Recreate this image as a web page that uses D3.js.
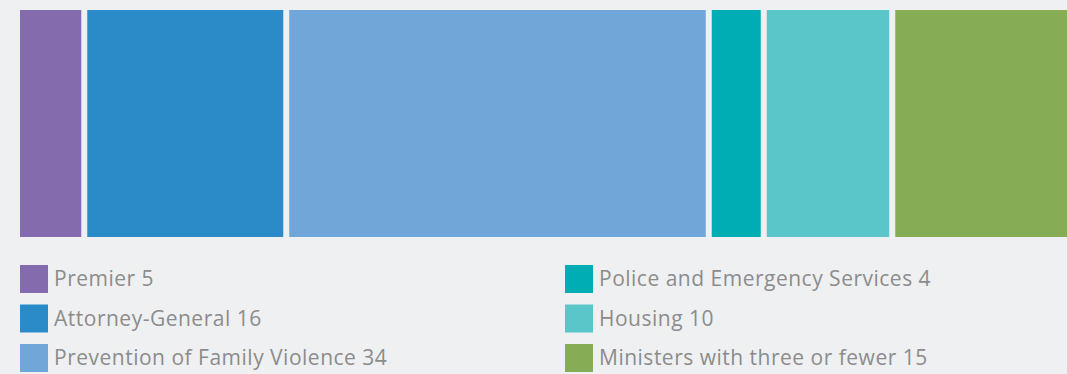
<!DOCTYPE html>
<html>
<head>
<meta charset="utf-8">
<script src="https://cdn.jsdelivr.net/npm/d3@7"></script>
<style>
  body { margin: 0; background: #eff0f2; overflow: hidden; }
  svg { display: block; }
  .legend text { font-family: "Open Sans", sans-serif; font-size: 21px; letter-spacing: 0.5px; fill: #8c8c8c; }
</style>
</head>
<body>
<svg id="chart" width="1067" height="374"></svg>
<script>
const categories = ['Premier', 'Attorney-General', 'Prevention of Family Violence',
                    'Police and Emergency Services', 'Housing', 'Ministers with three or fewer'];
const counts = [5, 16, 34, 4, 10, 15];
const colors = ['#836bae', '#2b8bc9', '#71a6d9', '#00adb5', '#5bc6c9', '#86ad55'];

const svg = d3.select('#chart');
const gap = 6;
const total = d3.sum(counts);

// bar runs past the right edge of the window, as in the original
const x = d3.scaleLinear()
    .domain([0, total])
    .range([20, 1079 - gap * (counts.length - 1)]);

let start = 0;
const segs = counts.map((v, i) => {
    const s = { i: i, v: v, x0: start };
    start += v;
    return s;
});

svg.append('g')
    .selectAll('rect')
    .data(segs)
    .join('rect')
    .attr('x', d => x(d.x0) + d.i * gap)
    .attr('y', 10)
    .attr('width', d => x(d.x0 + d.v) - x(d.x0))
    .attr('height', 227)
    .attr('fill', d => colors[d.i]);

// legend, two columns of three
const legend = svg.append('g').attr('class', 'legend')
    .selectAll('g')
    .data(categories)
    .join('g')
    .attr('transform', (d, i) => `translate(${i < 3 ? 20 : 565}, ${265 + (i % 3) * 39.5})`);

legend.append('rect')
    .attr('width', 28)
    .attr('height', 28)
    .attr('fill', (d, i) => colors[i]);

legend.append('text')
    .attr('x', 34)
    .attr('y', 21)
    .text((d, i) => d + ' ' + counts[i]);
</script>
</body>
</html>
